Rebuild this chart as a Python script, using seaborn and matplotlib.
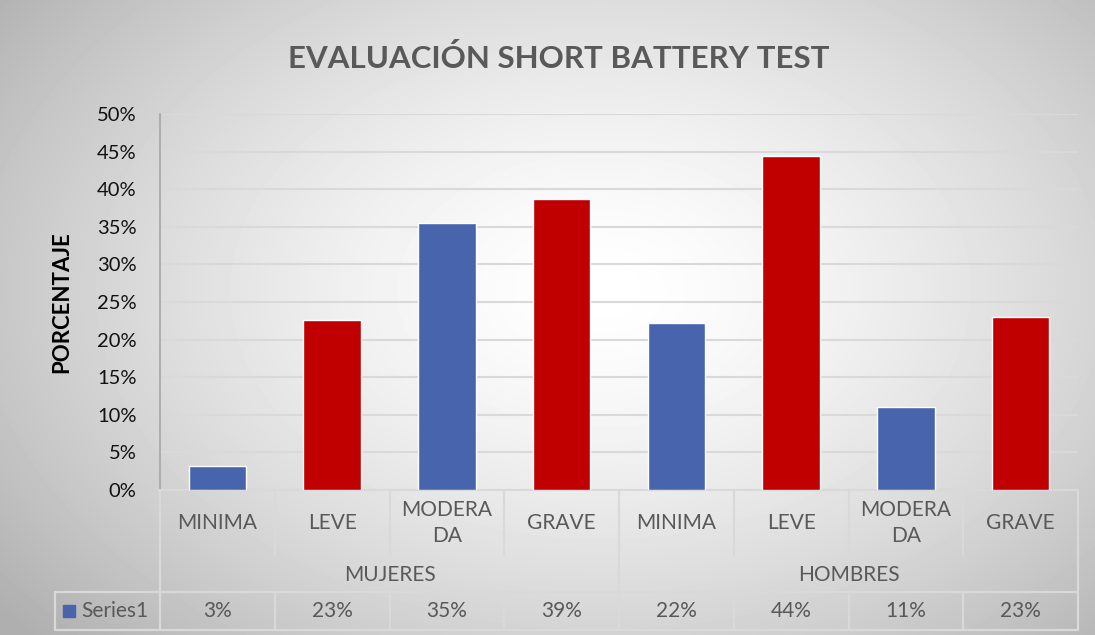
import matplotlib.pyplot as plt
import numpy as np
import pandas as pd
import seaborn as sns

grupos = ["MUJERES", "HOMBRES"]
niveles = ["MINIMA", "LEVE", "MODERA\nDA", "GRAVE"]
mujeres = [0.032, 0.226, 0.355, 0.387]
hombres = [0.222, 0.444, 0.111, 0.230]
etiquetas = ["3%", "23%", "35%", "39%", "22%", "44%", "11%", "23%"]
colores_nivel = ["#4864AD", "#C00000", "#4864AD", "#C00000"]

df = pd.DataFrame({
    "grupo": np.repeat(grupos, len(niveles)),
    "nivel": niveles * len(grupos),
    "valor": mujeres + hombres,
})
df["clave"] = df["grupo"] + " " + df["nivel"]

sns.set_theme(style="white")
plt.rcParams["font.family"] = ["Lato", "DejaVu Sans"]

W, H = 1095, 635
fig = plt.figure(figsize=(W / 100, H / 100), dpi=100)

# radial grey background (Excel style)
bg = fig.add_axes([0, 0, 1, 1], zorder=-10)
xx, yy = np.meshgrid(np.arange(W), np.arange(H))
r = np.sqrt(((xx - 600) / 640) ** 2 + ((yy - 290) / 430) ** 2)
shade = 1 - 0.24 * np.clip(r, 0, 1.2) ** 1.5
bg.imshow(shade, cmap="gray", vmin=0, vmax=1, aspect="auto", interpolation="bilinear")
bg.axis("off")

# plot area in pixels: x 160..1078, y 114..490
left, right, top, bottom = 160, 1078, 114, 490
ax = fig.add_axes([left / W, (H - bottom) / H, (right - left) / W, (bottom - top) / H])
ax.set_facecolor("none")

sns.barplot(data=df, x="clave", y="valor", hue="clave",
            palette=colores_nivel * len(grupos), legend=False,
            width=0.5, saturation=1, ax=ax, zorder=3)

ax.set_ylim(0, 0.5)
ax.set_xlim(-0.5, len(df) - 0.5)
ticks = np.arange(0, 0.51, 0.05)
ax.set_yticks(ticks)
ax.set_yticklabels([f"{t * 100:.0f}%" for t in ticks], fontsize=14.5, color="#111111")
ax.tick_params(axis="y", length=0, pad=17)
ax.set_xticks([])
ax.set_xlabel("")
ax.set_ylabel("")
ax.yaxis.grid(True, color="#d9d9d9", linewidth=1.5, zorder=0)
ax.set_axisbelow(True)
for s in ["top", "right"]:
    ax.spines[s].set_visible(False)
ax.spines["left"].set_color("#a6a6a6")
ax.spines["left"].set_linewidth(1.2)
ax.spines["bottom"].set_color("#d9d9d9")
ax.spines["bottom"].set_linewidth(1.5)

# data table below the axis
tr = ax.get_xaxis_transform()
px = 1 / (bottom - top)
cat_w = (right - left) / len(df)
y_cat = -(555 - bottom) * px
y_grp = -(592 - bottom) * px
y_dat = -(630 - bottom) * px
x_far = -0.5 - (left - 55) / cat_w
lc = dict(color="#d9d9d9", linewidth=1.6, transform=tr, clip_on=False)

n = len(df)
for i in range(n + 1):
    xb = i - 0.5
    if i in (0, len(niveles), n):
        ax.plot([xb, xb], [0, y_dat], **lc)
    else:
        ax.plot([xb, xb], [0, y_cat], **lc)
        ax.plot([xb, xb], [y_grp, y_dat], **lc)
ax.plot([x_far, n - 0.5], [y_grp, y_grp], **lc)
ax.plot([x_far, n - 0.5], [y_dat, y_dat], **lc)
ax.plot([x_far, x_far], [y_grp, y_dat], **lc)

txt = dict(transform=tr, ha="center", va="center", color="#595959", fontsize=15, clip_on=False)
for i, nivel in enumerate(df["nivel"]):
    ax.text(i, -(523 - bottom) * px, nivel, linespacing=1.4, **txt)
for g, grupo in enumerate(grupos):
    ax.text(g * len(niveles) + (len(niveles) - 1) / 2, -(575 - bottom) * px, grupo, **txt)
for i, et in enumerate(etiquetas):
    ax.text(i, -(611 - bottom) * px, et, **txt)

# legend key in table
x_key = -0.5 - (left - 69) / cat_w
ax.plot([x_key], [-(611 - bottom) * px], marker="s", markersize=9,
        color=colores_nivel[0], transform=tr, clip_on=False)
ax.text(-0.5 - (left - 81) / cat_w, -(611 - bottom) * px, "Series1",
        transform=tr, ha="left", va="center", color="#595959", fontsize=15, clip_on=False)

fig.text(559 / W, 1 - 59 / H, "EVALUACIÓN SHORT BATTERY TEST", ha="center", va="center",
         fontsize=22.5, fontweight="bold", color="#595959")
fig.text(62 / W, 1 - 302 / H, "PORCENTAJE", ha="center", va="center", rotation=90,
         fontsize=16, fontweight="bold", color="black")

fig.savefig("out.png", dpi=100)
